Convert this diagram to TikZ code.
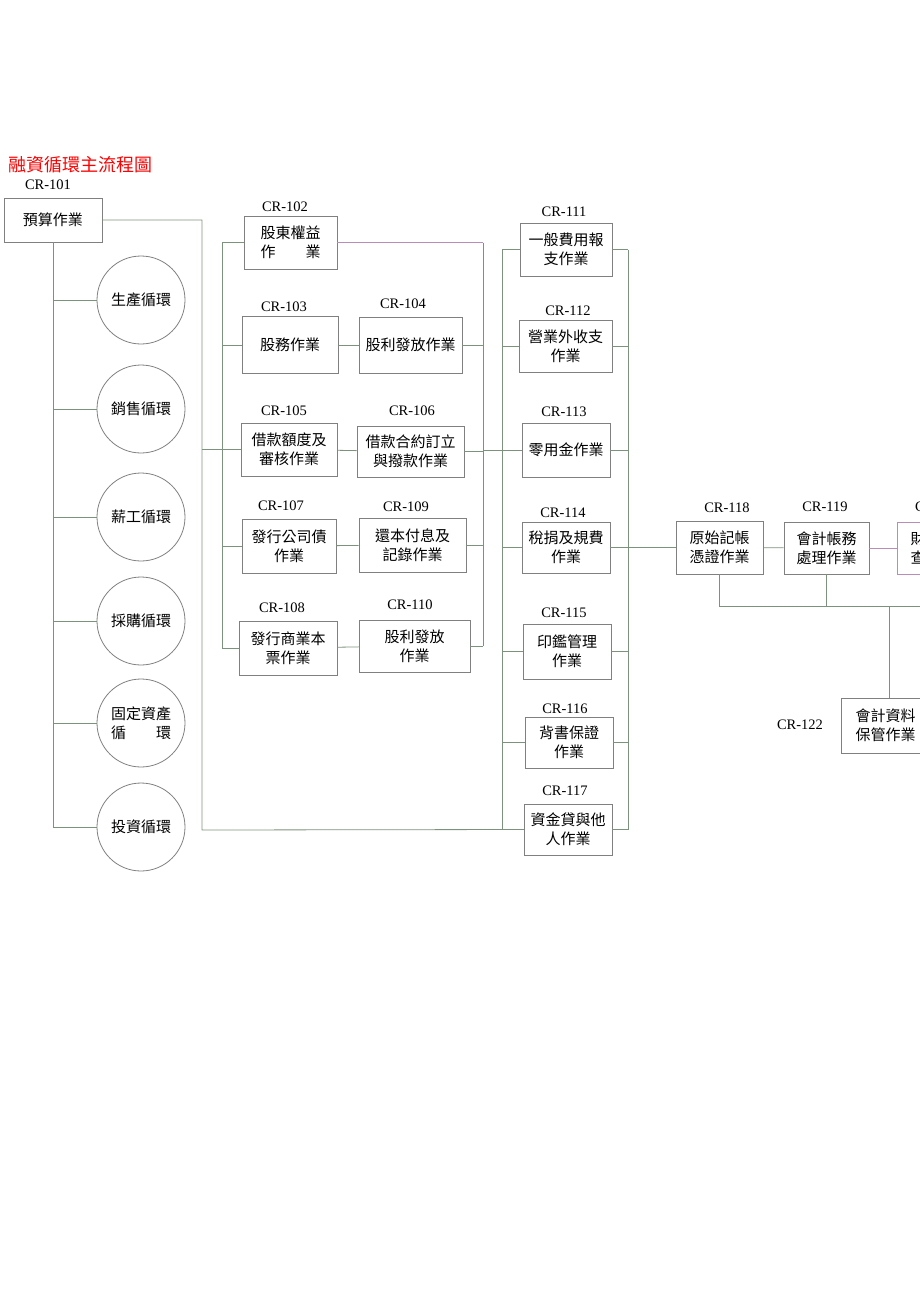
\documentclass[tikz,border=0pt]{standalone}
\usepackage{fontspec}
\setmainfont{Liberation Serif}
\newfontfamily\cjk{Noto Sans CJK TC}
\usepackage{tikz}
\definecolor{linegreen}{RGB}{125,146,125}
\definecolor{linepink}{RGB}{186,140,186}
\definecolor{boxgray}{RGB}{128,128,128}

\begin{document}
\begin{tikzpicture}[x=1pt, y=-1pt,
    link/.style={draw=linegreen, line width=0.8pt},
    proc/.style={rectangle, draw=boxgray, line width=0.8pt, fill=white,
      inner sep=0pt, align=center, font=\cjk\fontsize{15}{19}\selectfont},
    cyc/.style={circle, draw=boxgray, line width=0.8pt, fill=white,
      inner sep=0pt, minimum size=88pt, align=center,
      font=\cjk\fontsize{15}{19}\selectfont},
    lbl/.style={inner sep=0pt, font=\fontsize{14.5}{17}\selectfont},
  ]
\path[use as bounding box] (0,0) rectangle (920,1302);
\clip (0,0) rectangle (920,1302);
% title
\node[anchor=west, inner sep=0pt, text=red, font=\cjk\fontsize{18}{20}\selectfont] (title) at (8,165) {融資循環主流程圖};
% budget and the cycles
\node[lbl] (l101) at (48,185) {CR-101};
\node[proc, minimum width=98, minimum height=44] (cr101) at (53,220) {預算作業};
\node[cyc] (c1) at (141,300) {生產循環};
\node[cyc] (c2) at (141,409) {銷售循環};
\node[cyc] (c3) at (141,517) {薪工循環};
\node[cyc] (c4) at (141,621) {採購循環};
\node[cyc] (c5) at (141,723) {固定資產\\循　　環};
\node[cyc] (c6) at (141,827) {投資循環};
% financing column
\node[lbl] (l102) at (285,207) {CR-102};
\node[proc, minimum width=93, minimum height=53] (cr102) at (290.5,242.5) {股東權益\\作　　業};
\node[lbl] (l103) at (284,307) {CR-103};
\node[proc, minimum width=96, minimum height=57] (cr103) at (290,345) {股務作業};
\node[lbl] (l104) at (403,304) {CR-104};
\node[proc, minimum width=103, minimum height=56] (cr104) at (410.5,345) {股利發放作業};
\node[lbl] (l105) at (284,411) {CR-105};
\node[proc, minimum width=96, minimum height=53] (cr105) at (289,449.5) {借款額度及\\審核作業};
\node[lbl] (l106) at (412,411) {CR-106};
\node[proc, minimum width=107, minimum height=51] (cr106) at (410.5,451.5) {借款合約訂立\\與撥款作業};
\node[lbl] (l107) at (281,506) {CR-107};
\node[proc, minimum width=94, minimum height=54] (cr107) at (289,546) {發行公司債\\作業};
\node[lbl] (l109) at (406,507) {CR-109};
\node[proc, minimum width=107, minimum height=54] (cr109) at (412.5,545) {還本付息及\\記錄作業};
\node[lbl] (l108) at (282,608) {CR-108};
\node[proc, minimum width=98, minimum height=54] (cr108) at (288,648) {發行商業本\\票作業};
\node[lbl] (l110) at (410,605) {CR-110};
\node[proc, minimum width=111, minimum height=52] (cr110) at (414.5,646) {股利發放\\作業};
% expense column
\node[lbl] (l111) at (564,212) {CR-111};
\node[proc, minimum width=92, minimum height=53] (cr111) at (566,249.5) {一般費用報\\支作業};
\node[lbl] (l112) at (568,311) {CR-112};
\node[proc, minimum width=93, minimum height=52] (cr112) at (565.5,346) {營業外收支\\作業};
\node[lbl] (l113) at (564,412) {CR-113};
\node[proc, minimum width=88, minimum height=54] (cr113) at (566,450) {零用金作業};
\node[lbl] (l114) at (563,513) {CR-114};
\node[proc, minimum width=88, minimum height=51] (cr114) at (566,547.5) {稅捐及規費\\作業};
\node[lbl] (l115) at (564,613) {CR-115};
\node[proc, minimum width=88, minimum height=55] (cr115) at (567,651.5) {印鑑管理\\作業};
\node[lbl] (l116) at (565,709) {CR-116};
\node[proc, minimum width=88, minimum height=51] (cr116) at (569,742.5) {背書保證\\作業};
\node[lbl] (l117) at (565,791) {CR-117};
\node[proc, minimum width=88, minimum height=51] (cr117) at (568,829.5) {資金貸與他\\人作業};
% accounting row
\node[lbl] (l118) at (727,508) {CR-118};
\node[proc, minimum width=87, minimum height=53] (cr118) at (719.5,547.5) {原始記帳\\憑證作業};
\node[lbl] (l119) at (825,507) {CR-119};
\node[proc, minimum width=85, minimum height=52] (cr119) at (826.5,548) {會計帳務\\處理作業};
\node[lbl] (l120) at (938,507) {CR-120};
\node[proc, draw=linepink, minimum width=87, minimum height=52] (cr120) at (940.5,548) {財務報表\\查核作業};
\node[lbl] (l122) at (800,725) {CR-122};
\node[proc, minimum width=89, minimum height=55] (cr122) at (885.5,725.5) {會計資料\\保管作業};
% bus lines
\coordinate (b1) at (202,830);
\coordinate (b2l) at (222,0);
\coordinate (b2r) at (483,0);
\coordinate (b3l) at (502,0);
\coordinate (b3r) at (628,0);
\coordinate (h4) at (0,606);
\coordinate (j122) at (889,606);
% left bus to the cycles
\draw[link] (cr101.south) -- (cr101.south |- c6.west);
\foreach \i in {1,...,6}
  \draw[link] (c\i.west) -- (c\i.west -| cr101.south);
\draw[link] (cr101.east) -| (b1) -- (cr117.west);
% financing column
\draw[link] (cr102.west -| b2l) -- (cr108.west -| b2l);
\draw[link] (cr102.east -| b2r) -- (cr110.east -| b2r);
\draw[link] (b1 |- cr105.west) -- (cr105.west -| b2l);
\draw[link] (cr113.west -| b2r) -- (cr113.west -| b3l);
\foreach \n in {102,103,105,107,108}
  \draw[link] (cr\n.west) -- (cr\n.west -| b2l);
\draw[link, draw=linepink] (cr102.east) -- (cr102.east -| b2r);
\foreach \n in {104,106,109,110}
  \draw[link] (cr\n.east) -- (cr\n.east -| b2r);
\draw[link] (cr103) -- (cr104);
\draw[link] (cr105) -- (cr106);
\draw[link] (cr107) -- (cr109);
\draw[link] (cr108) -- (cr110);
% expense column
\draw[link] (cr111.west -| b3l) -- (cr117.west -| b3l);
\draw[link] (cr111.east -| b3r) -- (cr117.east -| b3r);
\foreach \n in {111,...,117} {
  \draw[link] (cr\n.west) -- (cr\n.west -| b3l);
  \draw[link] (cr\n.east) -- (cr\n.east -| b3r);
}
\draw[link] (cr114.east -| b3r) -- (cr118.west);
% accounting row
\draw[link] (cr118) -- (cr119);
\draw[link, draw=linepink] (cr119) -- (cr120);
\draw[link] (cr118.south) -- (cr118.south |- h4) -- (cr120.south |- h4) -- (cr120.south);
\draw[link] (cr119.south) -- (cr119.south |- h4);
\draw[link] (j122) -- (j122 |- cr122.north);
\end{tikzpicture}
\end{document}
